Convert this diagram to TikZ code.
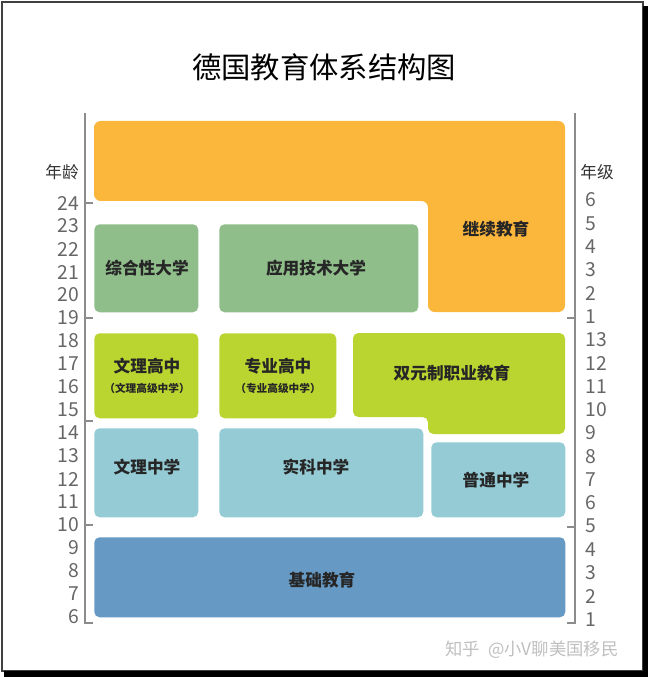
\documentclass[tikz,border=0pt]{standalone}
\usepackage{fontspec}
\setmainfont{Noto Sans CJK SC}
\definecolor{eduorange}{HTML}{FBB63C}
\definecolor{edugreen}{HTML}{8FBE8B}
\definecolor{edulime}{HTML}{BAD530}
\definecolor{eduteal}{HTML}{94CBD5}
\definecolor{edublue}{HTML}{6699C4}
\tikzset{
  stage/.style={rounded corners=4pt, inner sep=0pt, anchor=north west, font=\fontsize{12.5}{14}\selectfont\bfseries, text=black!85},
  axisline/.style={draw=black!45, line width=0.8pt},
  num/.style={font=\fontsize{14.5}{15}\selectfont, text=black!60, inner sep=1pt},
  sub/.style={font=\fontsize{8}{9}\selectfont\bfseries, text=black!85}
}
\begin{document}
\begin{tikzpicture}[x=0.75pt, y=-0.75pt]
\useasboundingbox (0,0) rectangle (648,677);
% frame with shadow
\draw[black!75, line width=1.2pt] (2,2) rectangle (643,671);
\fill[black] (643,6) rectangle (648,677);
\fill[black] (4,671) rectangle (648,677);
\node (title) at (324,67) {\fontsize{22}{24}\selectfont 德国教育体系结构图};
% age axis
\coordinate (LT) at (85,113); % left top
\coordinate (LB) at (85,623); % left bottom
\draw[axisline] (LT) -- (LB) -- ++(8,0);
\foreach \yy in {203,318,421,525} \draw[axisline] (85,\yy) -- ++(8,0);
\node[font=\fontsize{12.5}{14}\selectfont, text=black!80] (agelabel) at (62,172) {年龄};
\foreach \k in {0,...,18} {
  \pgfmathtruncatemacro{\age}{24-\k}
  \node[num, anchor=east] (age\k) at (81,203+23*\k) {\age};
}
% grade axis
\coordinate (RT) at (575,113); % right top
\coordinate (RB) at (575,623); % right bottom
\draw[axisline] (RT) -- (RB) -- ++(-8,0);
\foreach \yy in {318,527} \draw[axisline] (575,\yy) -- ++(-8,0);
\node[font=\fontsize{12.5}{14}\selectfont, text=black!80] (gradelabel) at (597,172) {年级};
\foreach \g [count=\k from 0] in {6,5,4,3,2,1,13,12,11,10,9,8,7,6,5,4,3,2,1} {
  \node[num, anchor=west] (grade\k) at (584,200+23.3*\k) {\g};
}
% continuing education (L-shape)
\fill[eduorange, rounded corners=5pt] (94,121) -- (565,121) -- (565,312) -- (428,312) -- (428,201) -- (94,201) -- cycle;
\node[stage] (cont) at (496,229) [anchor=center] {继续教育};
% universities
\node[stage, fill=edugreen, minimum width=104*0.75pt, minimum height=88*0.75pt] (uni) at (94,224) {};
\node[stage, anchor=center] at (147,268) {综合性大学};
\node[stage, fill=edugreen, minimum width=199*0.75pt, minimum height=88*0.75pt] (fh) at (219,224) {};
\node[stage, anchor=center] at (316,268) {应用技术大学};
% upper secondary
\node[stage, fill=edulime, minimum width=104*0.75pt, minimum height=85*0.75pt] (gymup) at (94,333) {};
\node[stage, anchor=center] at (147,366) {文理高中};
\node[sub] at (147,388) {（文理高级中学）};
\node[stage, fill=edulime, minimum width=117*0.75pt, minimum height=85*0.75pt] (fos) at (219,333) {};
\node[stage, anchor=center] at (278,366) {专业高中};
\node[sub] at (278,388) {（专业高级中学）};
% dual vocational (L-shape)
\fill[edulime, rounded corners=4pt] (353,333) -- (565,333) -- (565,434) -- (428,434) -- (428,417) -- (353,417) -- cycle;
\node[stage, anchor=center] (dual) at (452,373) {双元制职业教育};
% lower secondary
\node[stage, fill=eduteal, minimum width=104*0.75pt, minimum height=89*0.75pt] (gym) at (94,428) {};
\node[stage, anchor=center] at (147,467) {文理中学};
\node[stage, fill=eduteal, minimum width=204*0.75pt, minimum height=89*0.75pt] (real) at (219,428) {};
\node[stage, anchor=center] at (316,467) {实科中学};
\node[stage, fill=eduteal, minimum width=134*0.75pt, minimum height=75*0.75pt] (haupt) at (431,442) {};
\node[stage, anchor=center] at (496,480) {普通中学};
% primary
\node[stage, fill=edublue, minimum width=471*0.75pt, minimum height=80*0.75pt] (grund) at (94,537) {};
\node[stage, anchor=center] at (322,580) {基础教育};
% watermark
\node[font=\fontsize{13}{14}\selectfont, text=black!25] (mark) at (532,650) {知乎 \ @小V聊美国移民};
\end{tikzpicture}
\end{document}
